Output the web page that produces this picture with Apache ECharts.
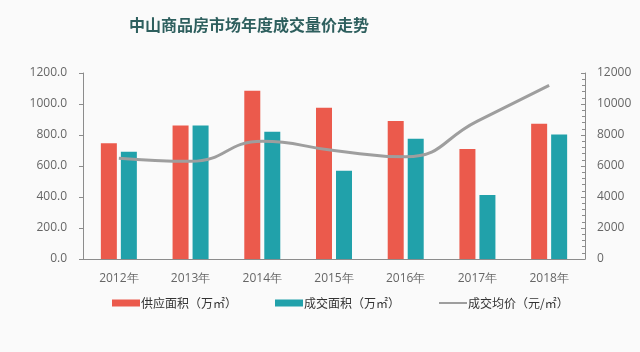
<!DOCTYPE html>
<html>
<head>
<meta charset="utf-8">
<script src="https://cdn.jsdelivr.net/npm/echarts@6/dist/echarts.min.js"></script>
<style>
  html, body { margin: 0; padding: 0; background: #fafafa; }
  #chart { width: 640px; height: 352px; }
</style>
</head>
<body>
<div id="chart"></div>
<script>
const years = ['2012年', '2013年', '2014年', '2015年', '2016年', '2017年', '2018年'];
// 供应面积（万㎡）
const supplyArea = [746, 862, 1086, 976, 890, 710, 873];
// 成交面积（万㎡）
const dealArea = [692, 862, 821, 570, 776, 413, 804];
// 成交均价（元/㎡）
const avgPrice = [6500, 6300, 7600, 7000, 6600, 8900, 11200];

const chart = echarts.init(document.getElementById('chart'));

const axisGray = '#8c8c8c';
const labelGray = '#666';

const option = {
  backgroundColor: '#fafafa',
  animation: false,
  title: {
    text: '中山商品房市场年度成交量价走势',
    left: 124,
    top: 12,
    textStyle: {
      fontFamily: 'Noto Sans CJK SC',
      fontSize: 16,
      fontWeight: 'bold',
      color: '#2e5f5e'
    }
  },
  legend: {
    bottom: 38,
    left: 107,
    itemGap: 38,
    itemWidth: 28,
    itemHeight: 7,
    textStyle: { fontFamily: 'Noto Sans CJK SC', fontSize: 12, color: '#333', padding: [0, 0, 0, -4] },
    data: [
      { name: '供应面积（万㎡）', icon: 'rect' },
      { name: '成交面积（万㎡）', icon: 'rect' },
      { name: '成交均价（元/㎡）', itemStyle: { opacity: 0 } }
    ]
  },
  grid: { left: 83, right: 55, top: 73, bottom: 93 },
  xAxis: {
    type: 'category',
    data: years,
    axisLine: { lineStyle: { color: axisGray } },
    axisTick: { show: false },
    axisLabel: { color: labelGray, fontFamily: 'Open Sans', fontSize: 12, margin: 14 }
  },
  yAxis: [
    {
      type: 'value',
      min: 0,
      max: 1200,
      interval: 200,
      axisLine: { show: true, lineStyle: { color: axisGray } },
      axisTick: { show: true, length: 4, lineStyle: { color: axisGray } },
      splitLine: { show: false },
      axisLabel: {
        color: labelGray, fontFamily: 'Open Sans', fontSize: 12, margin: 16,
        formatter: v => v.toFixed(1)
      }
    },
    {
      type: 'value',
      min: 0,
      max: 12000,
      interval: 2000,
      axisLine: { show: true, lineStyle: { color: axisGray } },
      axisTick: { show: true, length: 4, inside: true, lineStyle: { color: axisGray } },
      minorTick: { show: true, splitNumber: 5, length: 3, lineStyle: { color: axisGray } },
      splitLine: { show: false },
      axisLabel: {
        color: labelGray, fontFamily: 'Open Sans', fontSize: 12, margin: 12,
        formatter: v => String(v)
      }
    }
  ],
  series: [
    {
      name: '供应面积（万㎡）',
      type: 'bar',
      data: supplyArea,
      barWidth: 16,
      barGap: '25%',
      itemStyle: { color: '#eb5a4c' }
    },
    {
      name: '成交面积（万㎡）',
      type: 'bar',
      data: dealArea,
      barWidth: 16,
      itemStyle: { color: '#21a1aa' }
    },
    {
      name: '成交均价（元/㎡）',
      type: 'line',
      yAxisIndex: 1,
      data: avgPrice,
      smooth: true,
      symbol: 'none',
      lineStyle: { color: '#9e9e9e', width: 3 },
      itemStyle: { color: '#9e9e9e' }
    }
  ]
};

chart.setOption(option);
</script>
</body>
</html>
